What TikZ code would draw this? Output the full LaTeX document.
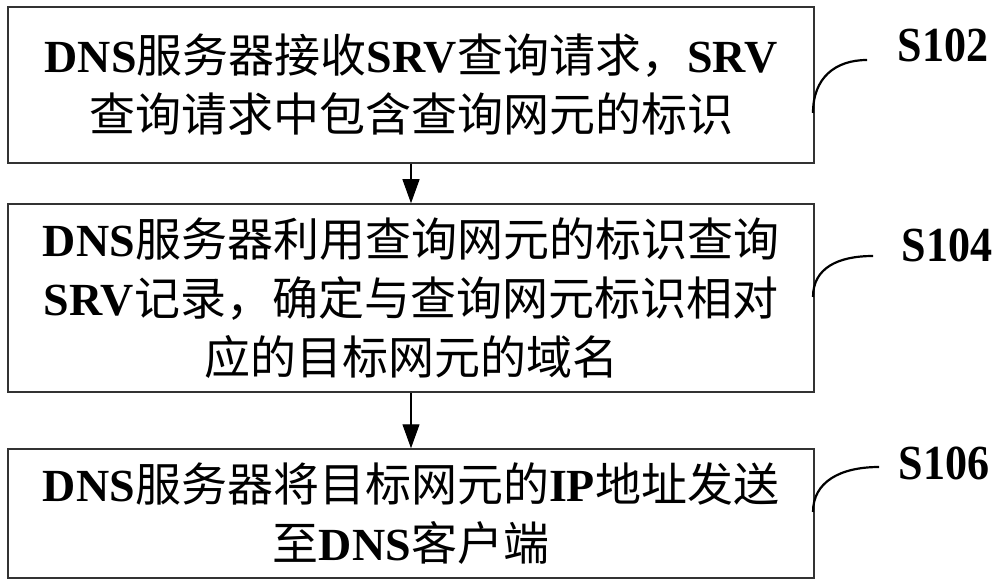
\documentclass[tikz,border=0pt]{standalone}
\usepackage{fontspec}
\setmainfont{Noto Sans CJK SC}
\newfontfamily\latinbf{Liberation Serif}
\newfontfamily\labfont[FakeStretch=0.9]{Liberation Serif}
\newcommand\Lb[1]{{\latinbf\bfseries #1}}
\usetikzlibrary{arrows.meta}
\begin{document}
\begin{tikzpicture}[x=0.5pt,y=-0.5pt,
  stepbox/.style={draw=black!80, line width=0.75pt, minimum width=403pt, align=center, inner sep=0pt,
    font=\fontsize{23}{29.5}\selectfont},
  flow/.style={draw, line width=0.6pt, -{Triangle[length=12pt,width=8.5pt]}},
  leader/.style={draw, line width=1.1pt},
  steplabel/.style={font=\labfont\bfseries\fontsize{24.5}{24.5}\selectfont, inner sep=0pt}]
\useasboundingbox (0,0) rectangle (1000,588);
\fill[white] (0,0) rectangle (1000,588);

\node[stepbox, minimum height=78pt] (b1) at (411,85)
  {\Lb{DNS}服务器接收\Lb{SRV}查询请求，\Lb{SRV}\\查询请求中包含查询网元的标识};
\node[stepbox, minimum height=94pt] (b2) at (411,298)
  {\Lb{DNS}服务器利用查询网元的标识查询\\\Lb{SRV}记录，确定与查询网元标识相对\\应的目标网元的域名};
\node[stepbox, minimum height=64.5pt] (b3) at (411,513.5)
  {\Lb{DNS}服务器将目标网元的\Lb{IP}地址发送\\至\Lb{DNS}客户端};

\draw[flow] (b1.south) -- (b2.north);
\draw[flow] (b2.south) -- (b3.north);

\node[steplabel] (l1) at (943,45) {S102};
\node[steplabel] (l2) at (947,245) {S104};
\node[steplabel] (l3) at (944,463) {S106};

\coordinate (s1) at (813,113);
\coordinate (e1) at (867,60);
\coordinate (s2) at (813,297);
\coordinate (e2) at (873,256);
\coordinate (s3) at (813,512);
\coordinate (e3) at (879,467);
\draw[leader] (s1) .. controls (813,78) and (835,60) .. (e1);
\draw[leader] (s2) .. controls (813,268) and (838,256) .. (e2);
\draw[leader] (s3) .. controls (813,482) and (840,467) .. (e3);
\end{tikzpicture}
\end{document}
